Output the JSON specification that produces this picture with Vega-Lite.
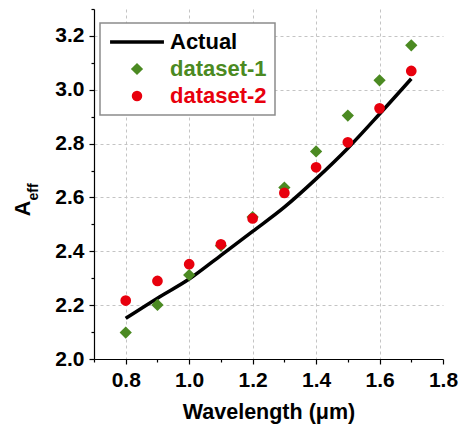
{
  "$schema": "https://vega.github.io/schema/vega-lite/v6.json",
  "autosize": "none",
  "width": 349,
  "height": 350,
  "padding": {"left": 94, "top": 9, "right": 16, "bottom": 65},
  "background": "white",
  "config": {
    "view": {"stroke": null},
    "font": "Liberation Sans",
    "axis": {"labelFont": "Liberation Sans", "titleFont": "Liberation Sans"},
    "legend": {
      "labelFont": "Liberation Sans", "labelFontSize": 22, "labelFontWeight": "bold", "labelLimit": 300,
      "padding": 8, "rowPadding": 5, "symbolSize": 150, "symbolOffset": 18, "labelOffset": 22,
      "strokeColor": "#8c8c8c", "fillColor": "white"
    }
  },
  "data": {
    "values": [
      {"wl": 0.8, "aeff": 2.151, "series": "Actual"},
      {"wl": 0.9, "aeff": 2.226, "series": "Actual"},
      {"wl": 1.0, "aeff": 2.297, "series": "Actual"},
      {"wl": 1.1, "aeff": 2.385, "series": "Actual"},
      {"wl": 1.2, "aeff": 2.474, "series": "Actual"},
      {"wl": 1.3, "aeff": 2.564, "series": "Actual"},
      {"wl": 1.4, "aeff": 2.669, "series": "Actual"},
      {"wl": 1.5, "aeff": 2.783, "series": "Actual"},
      {"wl": 1.6, "aeff": 2.910, "series": "Actual"},
      {"wl": 1.7, "aeff": 3.041, "series": "Actual"},
      {"wl": 0.8, "aeff": 2.098, "series": "dataset-1"},
      {"wl": 0.9, "aeff": 2.201, "series": "dataset-1"},
      {"wl": 1.0, "aeff": 2.312, "series": "dataset-1"},
      {"wl": 1.1, "aeff": 2.421, "series": "dataset-1"},
      {"wl": 1.2, "aeff": 2.527, "series": "dataset-1"},
      {"wl": 1.3, "aeff": 2.637, "series": "dataset-1"},
      {"wl": 1.4, "aeff": 2.771, "series": "dataset-1"},
      {"wl": 1.5, "aeff": 2.904, "series": "dataset-1"},
      {"wl": 1.6, "aeff": 3.035, "series": "dataset-1"},
      {"wl": 1.7, "aeff": 3.165, "series": "dataset-1"},
      {"wl": 0.8, "aeff": 2.217, "series": "dataset-2"},
      {"wl": 0.9, "aeff": 2.290, "series": "dataset-2"},
      {"wl": 1.0, "aeff": 2.352, "series": "dataset-2"},
      {"wl": 1.1, "aeff": 2.426, "series": "dataset-2"},
      {"wl": 1.2, "aeff": 2.522, "series": "dataset-2"},
      {"wl": 1.3, "aeff": 2.617, "series": "dataset-2"},
      {"wl": 1.4, "aeff": 2.712, "series": "dataset-2"},
      {"wl": 1.5, "aeff": 2.805, "series": "dataset-2"},
      {"wl": 1.6, "aeff": 2.931, "series": "dataset-2"},
      {"wl": 1.7, "aeff": 3.070, "series": "dataset-2"}
    ]
  },
  "resolve": {"axis": {"y": "independent"}},
  "encoding": {
    "x": {
      "field": "wl", "type": "quantitative",
      "scale": {"domain": [0.7, 1.8], "nice": false, "zero": false},
      "axis": {
        "title": "Wavelength (μm)",
        "values": [0.7, 0.8, 0.9, 1.0, 1.1, 1.2, 1.3, 1.4, 1.5, 1.6, 1.7, 1.8],
        "labelExpr": "round(datum.value*10)%2==0 ? format(datum.value, '.1f') : ''",
        "labelFontSize": 21, "labelFontWeight": "bold", "labelColor": "black",
        "labelPadding": 5, "labelFlush": false, "labelOverlap": false,
        "titleFontSize": 21.5, "titleFontWeight": "bold", "titleColor": "black", "titlePadding": 11,
        "domainColor": "black", "domainWidth": 1.2,
        "tickColor": "black", "tickWidth": 1.2,
        "tickSize": {"condition": {"test": "round(datum.value*10)%2==0", "value": 5}, "value": 3},
        "grid": true, "gridColor": "#c4c4c4", "gridDash": [3, 3], "gridWidth": 1,
        "gridOpacity": {"condition": {"test": "round(datum.value*10)%2==0 && datum.value < 1.75", "value": 1}, "value": 0}
      }
    }
  },
  "layer": [
    {
      "transform": [{"filter": "datum.series === 'Actual'"}],
      "mark": {"type": "line", "strokeWidth": 3.5, "interpolate": "monotone"},
      "encoding": {
        "y": {
          "field": "aeff", "type": "quantitative",
          "scale": {"domain": [2.0, 3.3], "nice": false, "zero": false},
          "axis": {
            "orient": "left",
            "title": "A",
            "values": [2.0, 2.1, 2.2, 2.3, 2.4, 2.5, 2.6, 2.7, 2.8, 2.9, 3.0, 3.1, 3.2, 3.3],
            "labelExpr": "round(datum.value*10)%2==0 ? format(datum.value, '.1f') : ''",
            "labelFontSize": 21, "labelFontWeight": "bold", "labelColor": "black",
            "labelPadding": 5, "labelFlush": false, "labelOverlap": false,
            "titleFontSize": 21.5, "titleFontWeight": "bold", "titleColor": "black",
            "titleAngle": -90, "titleAlign": "center", "titleBaseline": "alphabetic",
            "titleX": -65, "titleY": 199,
            "domainColor": "black", "domainWidth": 1.2,
            "tickColor": "black", "tickWidth": 1.2,
            "tickSize": {"condition": {"test": "round(datum.value*10)%2==0", "value": 5}, "value": 3},
            "grid": true, "gridColor": "#c4c4c4", "gridDash": [3, 3], "gridWidth": 1,
            "gridOpacity": {"condition": {"test": "round(datum.value*10)%2==0 && datum.value > 2.05", "value": 1}, "value": 0}
          }
        },
        "color": {
          "field": "series", "type": "nominal",
          "scale": {"domain": ["Actual", "dataset-1", "dataset-2"], "range": ["black", "#4b8a22", "#e8000d"]},
          "legend": {
            "title": null,
            "orient": "none", "legendX": 6, "legendY": 14,
            "encode": {
              "legend": {"update": {"strokeWidth": {"value": 1.5}}},
              "labels": {"update": {"fill": {"signal": "scale('color', datum.value)"}}},
              "symbols": {"update": {
                "stroke": {"signal": "scale('color', datum.value)"},
                "strokeWidth": {"signal": "datum.value === 'Actual' ? 3.5 : 0"},
                "size": {"signal": "datum.value === 'dataset-2' ? 110 : 150"}
              }}
            }
          }
        }
      }
    },
    {
      "transform": [{"filter": "datum.series === 'dataset-1'"}],
      "mark": {"type": "point", "filled": true, "opacity": 1, "size": 150},
      "encoding": {
        "y": {"field": "aeff", "type": "quantitative",
          "axis": {"orient": "left", "title": "eff", "titleFontSize": 14, "titleFontWeight": "bold", "titleColor": "black",
            "titleAngle": -90, "titleAlign": "center", "titleBaseline": "alphabetic",
            "labels": false, "ticks": false, "domain": false, "grid": false, "titleX": -56.5, "titleY": 182.5}},
        "color": {"field": "series", "type": "nominal"},
        "shape": {
          "field": "series", "type": "nominal",
          "scale": {"domain": ["Actual", "dataset-1", "dataset-2"], "range": ["M-4.4,0H4.4", "diamond", "circle"]}
        }
      }
    },
    {
      "transform": [{"filter": "datum.series === 'dataset-2'"}],
      "mark": {"type": "point", "filled": true, "opacity": 1, "size": 115},
      "encoding": {
        "y": {"field": "aeff", "type": "quantitative", "axis": null},
        "color": {"field": "series", "type": "nominal"},
        "shape": {"field": "series", "type": "nominal"}
      }
    }
  ]
}
